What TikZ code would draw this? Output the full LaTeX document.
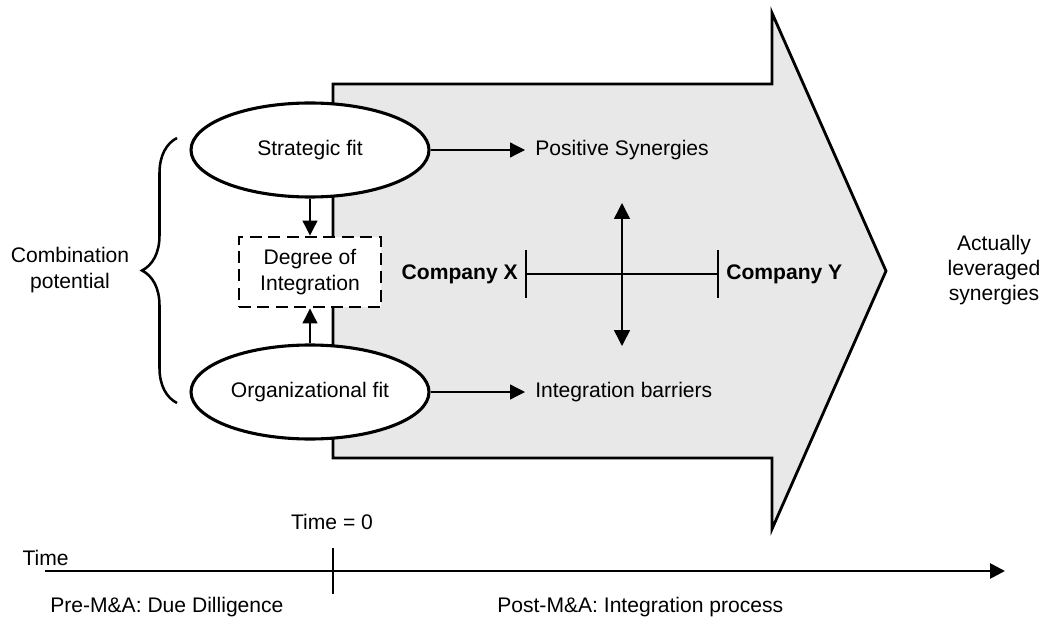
\documentclass[tikz,border=0pt]{standalone}
\usepackage{fontspec}
\setmainfont{Liberation Sans}
\usepackage{tikz}
\usetikzlibrary{shapes.geometric,arrows.meta,decorations.pathreplacing}
\definecolor{shaftgray}{RGB}{232,232,232}

\begin{document}
\begin{tikzpicture}[
  every node/.style={font=\fontsize{15}{18}\selectfont},
  fitellipse/.style={ellipse, draw, line width=2.2pt, fill=white,
    minimum width=5.95cm, minimum height=2.35cm, inner sep=0pt},
  degbox/.style={draw, line width=2.1pt, fill=white, align=center,
    dash pattern=on 0.3cm off 0.16cm, minimum width=3.55cm, minimum height=1.75cm},
  tip/.style={-{Triangle[length=0.375cm,width=0.375cm]}, line width=0.9pt},
  label/.style={anchor=west, inner sep=0pt}
]
\useasboundingbox (0,0) rectangle (26.125,15.75);

% big process arrow
\draw[line width=2pt, fill=shaftgray] (8.325,13.65) -- (19.3,13.65) -- (19.3,15.425)
  -- (22.15,8.975) -- (19.3,2.525) -- (19.3,4.3) -- (8.325,4.3) -- cycle;

\node[fitellipse] (sfit) at (7.75,12.0) {Strategic fit};
\node[fitellipse] (ofit) at (7.75,5.95) {Organizational fit};
\node[degbox] (doi) at (7.75,8.95)%
{Degree of\\Integration};

\draw[tip] (sfit.south) -- (doi.north);
\draw[tip] (ofit.north) -- (doi.south);

\node[anchor=west, inner xsep=0.25cm] (possyn) at (13.125,12.0)%
{Positive Synergies};
\node[anchor=west, inner xsep=0.25cm] (intbar) at (13.125,5.95)%
{Integration barriers};
\draw[tip] (sfit.east) -- (possyn.west);
\draw[tip] (ofit.east) -- (intbar.west);

% companies
\node[anchor=east, inner xsep=0.2cm, font=\fontsize{15}{18}\selectfont\bfseries] (comx) at (13.15,8.9)%
{Company X};
\node[anchor=west, inner xsep=0.2cm, font=\fontsize{15}{18}\selectfont\bfseries] (comy) at (17.95,8.9)%
{Company Y};
\draw[line width=0.8pt] (comx.east) -- (comy.west);
\draw[line width=0.8pt] (comx.east) ++(0,0.6) -- ++(0,-1.2);
\draw[line width=0.8pt] (comy.west) ++(0,0.6) -- ++(0,-1.2);
\coordinate (up) at (15.55,10.675);
\coordinate (dn) at (15.55,7.1);
\draw[{Triangle[length=0.4cm,width=0.4cm]}-{Triangle[length=0.4cm,width=0.4cm]}, line width=1.1pt] (dn) -- (up);

% combination potential
\node[align=center] (combo) at (1.75,9.0)%
{Combination\\potential};
\coordinate (bracelo) at (4.425,5.675);
\coordinate (bracehi) at (4.425,12.3);
\draw[line width=1.8pt, decorate, decoration={brace, amplitude=0.875cm}] (bracelo) -- (bracehi);

\node[align=center] (actual) at (24.85,9.0)%
{Actually\\leveraged\\synergies};

% time axis
\coordinate (tstart) at (1.125,1.475);
\coordinate (tend) at (25.125,1.475);
\draw[-{Triangle[length=0.375cm,width=0.375cm]}, line width=1.9pt] (tstart) -- (tend);
\coordinate (t0top) at (8.325,2.05);
\coordinate (t0bot) at (8.325,0.9);
\draw[line width=1.9pt] (t0top) -- (t0bot);
\node (timelbl) at (1.14,1.8) {Time};
\node (tzero) at (8.3,2.7) {Time = 0};
\node[label] (pre) at (1.25,0.575)%
{Pre-M\&A: Due Dilligence};
\node[label] (post) at (12.425,0.575)%
{Post-M\&A: Integration process};
\end{tikzpicture}
\end{document}
